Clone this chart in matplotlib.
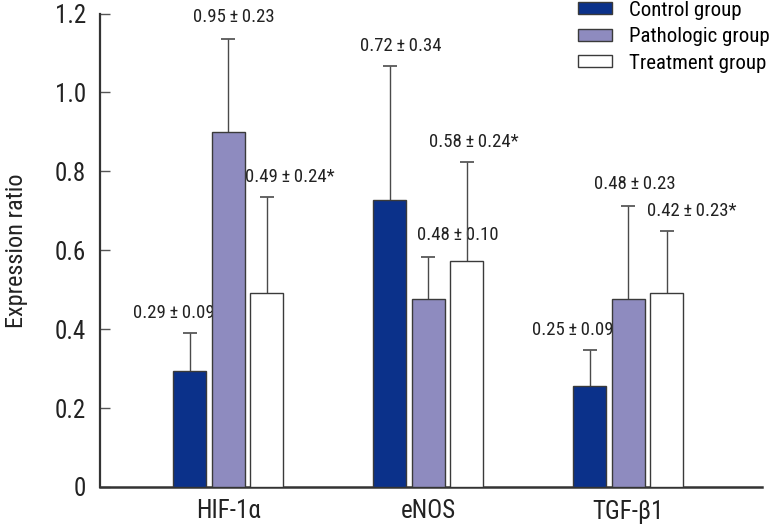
import numpy as np
import matplotlib
matplotlib.use("Agg")
import matplotlib.pyplot as plt

plt.rcParams['font.family'] = ['Roboto Condensed', 'DejaVu Sans']

# ---------------------------- data ----------------------------
markers = ["HIF-1\u03b1", "eNOS", "TGF-\u03b21"]
groups = ["Control group", "Pathologic group", "Treatment group"]

control = [0.295, 0.727, 0.257]
control_err = [0.095, 0.34, 0.09]
pathologic = [0.90, 0.476, 0.476]
pathologic_err = [0.236, 0.106, 0.237]
treatment = [0.491, 0.572, 0.491]
treatment_err = [0.243, 0.251, 0.159]

control_lbl = ["0.29\u2009\u00b1\u20090.09", "0.72\u2009\u00b1\u20090.34", "0.25\u2009\u00b1\u20090.09"]
pathologic_lbl = ["0.95\u2009\u00b1\u20090.23", "0.48\u2009\u00b1\u20090.10", "0.48\u2009\u00b1\u20090.23"]
treatment_lbl = ["0.49\u2009\u00b1\u20090.24*", "0.58\u2009\u00b1\u20090.24*", "0.42\u2009\u00b1\u20090.23*"]

yticks = [0, 0.2, 0.4, 0.6, 0.8, 1.0, 1.2]
ytick_labels = ["0", "0.2", "0.4", "0.6", "0.8", "1.0", "1.2"]
# --------------------------------------------------------------

colors = ["#0b318a", "#8e8bbf", "#ffffff"]
# label offsets (pixels) from the top of each error bar
lbl_dx = [[-16, 11, -17], [6, 30, 7], [23, 7, 25]]
lbl_dy = [18, 20, 18]

fig = plt.figure(figsize=(7.73, 5.27), dpi=100)
ax = fig.add_axes([100/773, 40/527, 662/773, 473.5/527])

x = np.arange(len(markers))
width = 0.165
step = 0.1925
series = [(control, control_err, control_lbl),
          (pathologic, pathologic_err, pathologic_lbl),
          (treatment, treatment_err, treatment_lbl)]

for i, (vals, errs, lbls) in enumerate(series):
	pos = x + (i - 1) * step
	ax.bar(pos, vals, width, color=colors[i], edgecolor="#3a3a3a",
		linewidth=1.0, label=groups[i], zorder=3)
	eb = ax.errorbar(pos, vals, yerr=[np.zeros(len(errs)), errs], fmt="none",
		ecolor="#4a4a4a", elinewidth=1.0, capsize=4.7, capthick=1.2, zorder=2)
	# only the upper caps are wanted
	for cl in eb[1]:
		if np.allclose(cl.get_ydata(), vals):
			cl.set_visible(False)
	for j in range(len(vals)):
		ax.annotate(lbls[j], (pos[j], vals[j] + errs[j]),
			xytext=(lbl_dx[i][j], lbl_dy[i] + 2), textcoords="offset pixels",
			ha="center", va="center", fontsize=13.5, color="#222222", zorder=2)

ax.set_xlim(-0.64, 2.67)
ax.set_ylim(0, 1.2)
ax.set_yticks(yticks)
ax.set_yticklabels(ytick_labels)
ax.set_xticks(x)
ax.set_xticklabels(markers)
ax.tick_params(axis="y", direction="in", length=7.5, width=1.0, colors="#555555",
	labelsize=18, labelcolor="#222222", pad=10)
ax.tick_params(axis="x", length=0, labelsize=18, labelcolor="#222222", pad=9)
ax.set_ylabel("Expression ratio", fontsize=17.5, color="#222222", labelpad=19)

# make top and right lines invisible
ax.spines["top"].set_visible(False)
ax.spines["right"].set_visible(False)
ax.spines["left"].set_color("#333333")
ax.spines["bottom"].set_color("#333333")
ax.spines["left"].set_linewidth(1.6)
ax.spines["bottom"].set_linewidth(1.8)

fig.legend(loc="upper left", bbox_to_anchor=(559/773, 1.034), frameon=False,
	fontsize=15, handlelength=1.65, handleheight=0.5, handletextpad=0.8,
	labelspacing=0.36)

plt.savefig("out.png", dpi=100)
